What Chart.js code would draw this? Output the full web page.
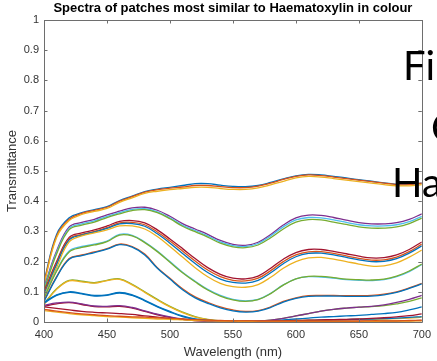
<!DOCTYPE html>
<html>
<head>
<meta charset="utf-8">
<script src="https://cdn.jsdelivr.net/npm/chart.js@4/dist/chart.umd.min.js"></script>
<style>
html,body{margin:0;padding:0;background:#fff;overflow:hidden;}
#wrap{position:relative;width:437px;height:361px;}
</style>
</head>
<body>
<div id="wrap"><canvas id="c" width="437" height="361"></canvas></div>
<script>
const wavelengths = [400,410,420,430,440,450,460,470,480,490,500,510,520,530,540,550,560,570,580,590,600,610,620,630,640,650,660,670,680,690,700];
const xTicks = [400,450,500,550,600,650,700];
const yTicks = [0,0.1,0.2,0.3,0.4,0.5,0.6,0.7,0.8,0.9,1];

const a1 = [0.135,0.29,0.345,0.362,0.372,0.382,0.402,0.417,0.432,0.44,0.446,0.452,0.458,0.458,0.453,0.449,0.448,0.452,0.462,0.474,0.484,0.489,0.487,0.482,0.477,0.471,0.466,0.461,0.456,0.456,0.46];
const a2 = [0.13,0.285,0.34,0.36,0.37,0.38,0.4,0.415,0.43,0.438,0.443,0.447,0.452,0.452,0.448,0.445,0.445,0.45,0.46,0.472,0.482,0.487,0.485,0.48,0.475,0.47,0.465,0.46,0.455,0.455,0.46];
const a3 = [0.125,0.28,0.336,0.356,0.366,0.376,0.396,0.411,0.426,0.433,0.438,0.442,0.446,0.446,0.442,0.439,0.439,0.444,0.454,0.466,0.477,0.482,0.48,0.475,0.47,0.465,0.46,0.455,0.451,0.451,0.455];
const b1 = [0.115,0.235,0.315,0.33,0.34,0.355,0.367,0.378,0.38,0.37,0.35,0.326,0.308,0.29,0.27,0.257,0.254,0.264,0.29,0.321,0.345,0.354,0.353,0.346,0.337,0.329,0.325,0.325,0.329,0.34,0.358];
const b2 = [0.11,0.23,0.31,0.325,0.335,0.35,0.362,0.373,0.375,0.365,0.345,0.32,0.303,0.285,0.265,0.253,0.25,0.26,0.285,0.315,0.338,0.346,0.345,0.338,0.33,0.322,0.318,0.318,0.322,0.332,0.35];
const b3 = [0.105,0.225,0.306,0.321,0.331,0.346,0.358,0.369,0.372,0.362,0.342,0.317,0.299,0.281,0.261,0.249,0.246,0.255,0.279,0.308,0.331,0.339,0.338,0.331,0.323,0.315,0.311,0.311,0.315,0.326,0.344];
const c1 = [0.1,0.2,0.28,0.295,0.305,0.318,0.333,0.336,0.328,0.305,0.275,0.243,0.21,0.18,0.158,0.145,0.143,0.152,0.178,0.208,0.23,0.24,0.24,0.234,0.226,0.218,0.212,0.213,0.222,0.24,0.265];
const c2 = [0.095,0.195,0.275,0.29,0.3,0.313,0.328,0.33,0.322,0.298,0.268,0.235,0.202,0.172,0.15,0.138,0.136,0.145,0.17,0.2,0.222,0.232,0.233,0.227,0.219,0.211,0.205,0.206,0.215,0.233,0.258];
const c3 = [0.09,0.19,0.272,0.288,0.298,0.31,0.325,0.326,0.317,0.292,0.261,0.227,0.194,0.164,0.142,0.131,0.129,0.138,0.163,0.193,0.216,0.227,0.228,0.222,0.214,0.206,0.2,0.201,0.21,0.228,0.252];
const c4 = [0.085,0.18,0.265,0.285,0.295,0.305,0.318,0.318,0.308,0.283,0.25,0.215,0.18,0.15,0.128,0.117,0.115,0.124,0.148,0.178,0.2,0.212,0.214,0.208,0.2,0.192,0.185,0.186,0.196,0.215,0.238];
const d1 = [0.08,0.17,0.235,0.25,0.258,0.268,0.29,0.287,0.265,0.235,0.2,0.165,0.135,0.108,0.088,0.075,0.07,0.075,0.095,0.123,0.143,0.15,0.149,0.145,0.14,0.138,0.137,0.14,0.15,0.167,0.19];
const d2 = [0.078,0.168,0.232,0.247,0.255,0.266,0.288,0.285,0.263,0.233,0.198,0.163,0.133,0.106,0.086,0.073,0.068,0.074,0.094,0.122,0.143,0.151,0.151,0.147,0.142,0.14,0.139,0.142,0.152,0.169,0.192];
const e1 = [0.07,0.15,0.21,0.222,0.232,0.243,0.258,0.25,0.225,0.18,0.145,0.11,0.083,0.065,0.05,0.04,0.035,0.038,0.05,0.068,0.08,0.087,0.088,0.088,0.087,0.087,0.088,0.092,0.1,0.113,0.128];
const e2 = [0.068,0.148,0.208,0.22,0.23,0.241,0.256,0.248,0.222,0.178,0.142,0.107,0.08,0.062,0.047,0.037,0.033,0.036,0.048,0.066,0.078,0.085,0.086,0.086,0.085,0.085,0.086,0.09,0.098,0.111,0.126];
const f1 = [0.06,0.11,0.138,0.135,0.13,0.138,0.143,0.125,0.1,0.075,0.052,0.033,0.018,0.009,0.004,0.002,0.002,0.003,0.006,0.012,0.02,0.028,0.036,0.042,0.046,0.049,0.051,0.054,0.06,0.068,0.08];
const f2 = [0.058,0.108,0.136,0.133,0.129,0.137,0.141,0.123,0.098,0.073,0.05,0.031,0.016,0.008,0.003,0.002,0.002,0.002,0.003,0.004,0.005,0.006,0.007,0.008,0.008,0.009,0.009,0.01,0.011,0.013,0.016];
const g1 = [0.065,0.09,0.1,0.095,0.088,0.09,0.098,0.09,0.072,0.052,0.035,0.02,0.01,0.005,0.003,0.002,0.002,0.002,0.004,0.007,0.01,0.013,0.016,0.018,0.02,0.022,0.025,0.028,0.032,0.04,0.05];
const g2 = [0.062,0.088,0.098,0.093,0.086,0.088,0.096,0.088,0.07,0.05,0.033,0.018,0.009,0.004,0.002,0.001,0.001,0.001,0.002,0.003,0.004,0.005,0.006,0.007,0.008,0.009,0.01,0.011,0.013,0.015,0.018];
const h1 = [0.055,0.063,0.066,0.06,0.053,0.052,0.054,0.048,0.037,0.026,0.017,0.01,0.005,0.003,0.002,0.002,0.002,0.003,0.006,0.012,0.02,0.028,0.036,0.042,0.046,0.049,0.052,0.057,0.065,0.075,0.088];
const h2 = [0.052,0.06,0.064,0.058,0.051,0.05,0.052,0.046,0.035,0.024,0.015,0.009,0.005,0.003,0.002,0.002,0.002,0.002,0.003,0.004,0.005,0.006,0.007,0.008,0.009,0.01,0.012,0.014,0.017,0.021,0.027];
const i1 = [0.042,0.036,0.031,0.027,0.024,0.021,0.019,0.017,0.016,0.014,0.012,0.01,0.008,0.006,0.005,0.004,0.004,0.003,0.003,0.003,0.003,0.003,0.003,0.003,0.003,0.003,0.004,0.004,0.004,0.005,0.006];
const i2 = [0.038,0.033,0.028,0.024,0.021,0.018,0.016,0.014,0.012,0.01,0.009,0.007,0.005,0.004,0.003,0.003,0.002,0.002,0.002,0.002,0.002,0.002,0.002,0.002,0.002,0.002,0.002,0.003,0.003,0.003,0.004];
const i3 = [0.05,0.045,0.04,0.035,0.032,0.03,0.028,0.025,0.02,0.016,0.012,0.009,0.006,0.005,0.004,0.003,0.003,0.003,0.003,0.003,0.003,0.003,0.003,0.003,0.003,0.003,0.003,0.003,0.003,0.004,0.005];

const C = {blue:'#0072BD', orange:'#D95319', yellow:'#EDB120', purple:'#7E2F8E', green:'#77AC30', cyan:'#4DBEEE', red:'#A2142F'};
const series = [
  [i1,C.orange],[i2,C.yellow],[i3,C.red],
  [h1,C.purple],[h2,C.red],
  [g1,C.blue],[g2,C.blue],
  [f2,C.yellow],[f1,C.green],
  [e2,C.blue],[e1,C.orange],
  [d2,C.green],[d1,C.cyan],
  [c4,C.yellow],[c3,C.blue],[c2,C.orange],[c1,C.red],
  [b3,C.green],[b2,C.cyan],[b1,C.purple],
  [a3,C.yellow],[a2,C.orange],[a1,C.blue]
];

const datasets = series.map(([vals,col]) => ({
  data: vals.map((v,i)=>({x:wavelengths[i], y:v})),
  borderColor: col,
  borderWidth: 1.3,
  pointRadius: 0,
  fill: false,
  tension: 0.4
}));

const FONT = '"Liberation Sans", Arial, Helvetica, sans-serif';

const boxPlugin = {
  id:'box',
  afterDatasetsDraw(chart){
    const {ctx, chartArea:a, scales:{x,y}} = chart;
    ctx.save();
    ctx.strokeStyle = '#6e6e6e';
    ctx.lineWidth = 1;
    ctx.beginPath();
    ctx.rect(Math.round(a.left)+0.5, Math.round(a.top)+0.5, Math.round(a.right-a.left), Math.round(a.bottom-a.top));
    ctx.stroke();
    const L = 3.5;
    ctx.beginPath();
    xTicks.forEach(t=>{
      const px = Math.round(x.getPixelForValue(t))+0.5;
      ctx.moveTo(px, a.bottom); ctx.lineTo(px, a.bottom-L);
      ctx.moveTo(px, a.top); ctx.lineTo(px, a.top+L);
    });
    yTicks.forEach(t=>{
      const py = Math.round(y.getPixelForValue(t))+0.5;
      ctx.moveTo(a.left, py); ctx.lineTo(a.left+L, py);
      ctx.moveTo(a.right, py); ctx.lineTo(a.right-L, py);
    });
    ctx.stroke();
    ctx.restore();
  },
  afterDraw(chart){
    const ctx = chart.ctx;
    ctx.save();
    ctx.fillStyle = '#000';
    ctx.font = '40px Lato';
    ctx.textBaseline = 'alphabetic';
    ctx.fillText('Fi', 403, 80);
    ctx.fillText('C', 431, 142);
    ctx.fillText('Ha', 392, 197);
    ctx.restore();
  }
};

new Chart(document.getElementById('c'), {
  type:'line',
  data:{datasets},
  plugins:[boxPlugin],
  options:{
    responsive:false,
    animation:false,
    events:[],
    layout:{padding:{left:0,right:11,top:0,bottom:0}},
    plugins:{
      legend:{display:false},
      tooltip:{enabled:false},
      title:{
        display:true,
        fullSize:false,
        text:'Spectra of patches most similar to Haematoxylin in colour',
        color:'#000',
        font:{family:FONT, size:13, weight:'bold', lineHeight:1.2},
        padding:{top:1,bottom:3.4}
      }
    },
    scales:{
      x:{
        type:'linear', min:400, max:700,
        afterBuildTicks(s){ s.ticks = xTicks.map(v=>({value:v})); },
        afterFit(s){ s.height = 39; },
        grid:{display:false, drawTicks:false},
        border:{display:false},
        ticks:{color:'#333', padding:6, maxRotation:0, font:{family:FONT, size:11}},
        title:{display:true, text:'Wavelength (nm)', color:'#333', padding:{top:0,bottom:1.2}, font:{family:FONT, size:13, lineHeight:1.2}}
      },
      y:{
        type:'linear', min:0, max:1,
        afterBuildTicks(s){ s.ticks = yTicks.map(v=>({value:v})); },
        afterFit(s){ s.width = 44; },
        grid:{display:false, drawTicks:false},
        border:{display:false},
        ticks:{color:'#333', padding:5, callback:(v)=> (v===0||v===1) ? String(v) : v.toFixed(1), font:{family:FONT, size:11}},
        title:{display:true, text:'Transmittance', color:'#333', padding:{top:4.2,bottom:0}, font:{family:FONT, size:13, lineHeight:1.2}}
      }
    }
  }
});
</script>
</body>
</html>
